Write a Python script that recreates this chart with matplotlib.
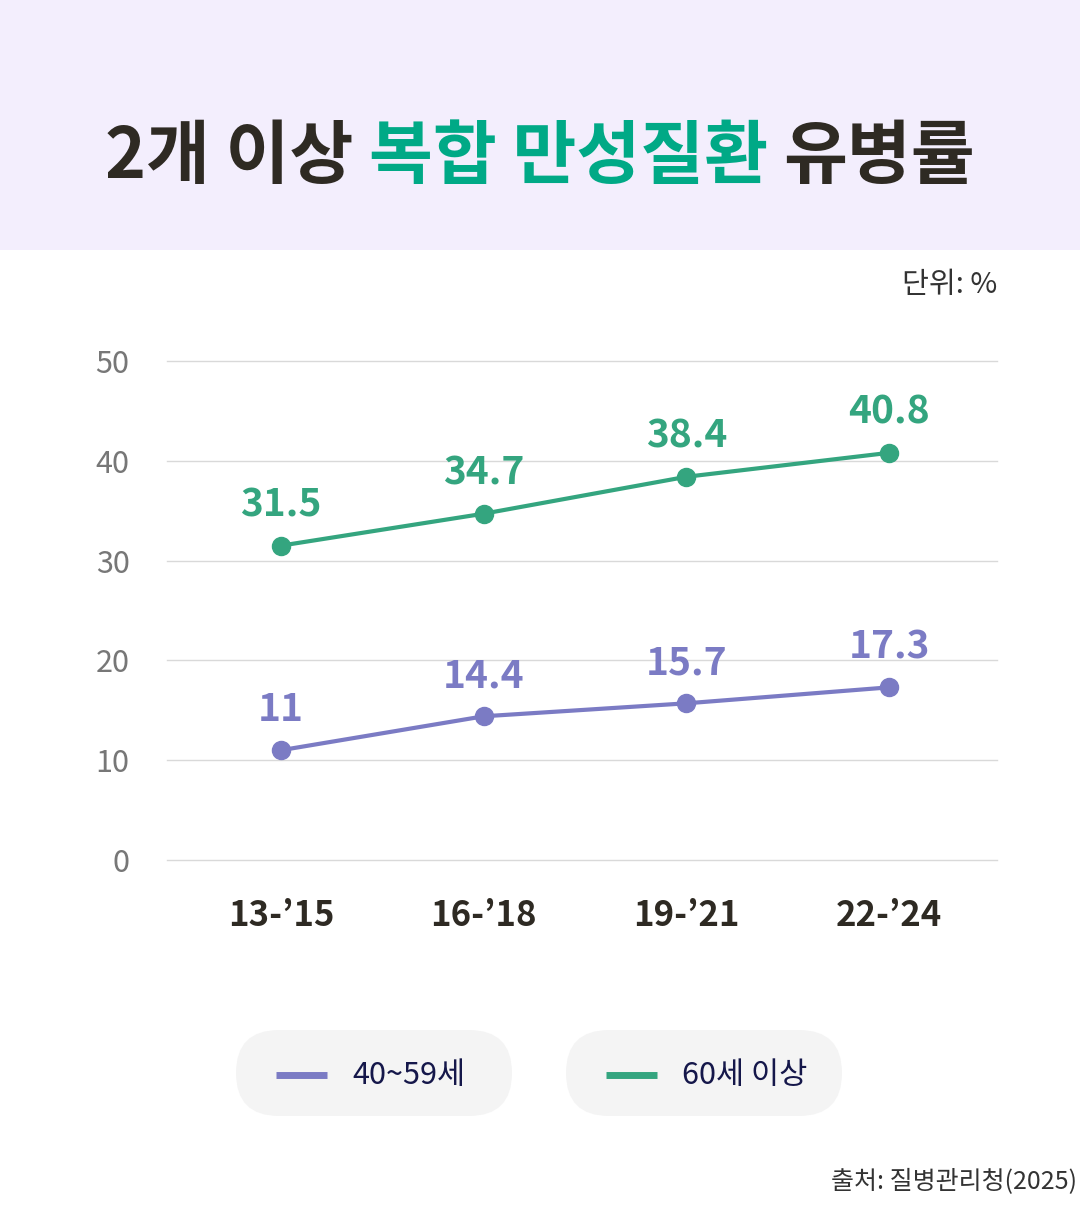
import matplotlib.pyplot as plt
from matplotlib.patches import FancyBboxPatch, Rectangle

plt.rcParams['font.family'] = ['Noto Sans CJK KR', 'DejaVu Sans']

# 데이터
periods = ["13-’15", "16-’18", "19-’21", "22-’24"]
age_40_59 = [11, 14.4, 15.7, 17.3]
age_60_up = [31.5, 34.7, 38.4, 40.8]
series_names = ["40~59세", "60세 이상"]
y_ticks = [0, 10, 20, 30, 40, 50]

purple = '#7B7BC4'
green = '#34A57F'
title_dark = '#2E2A23'
title_green = '#00A986'

W, H = 1080, 1216
fig = plt.figure(figsize=(W / 100, H / 100), dpi=100)
fig.patch.set_facecolor('white')

# 전체 배경용 좌표계 (픽셀 단위)
bg = fig.add_axes([0, 0, 1, 1])
bg.set_xlim(0, W)
bg.set_ylim(H, 0)
bg.axis('off')
bg.add_patch(Rectangle((0, 0), W, 250, color='#F3EEFD', lw=0))

# 제목 (세 조각, 색이 다름)
title_parts = [("2개 이상 ", title_dark), ("복합 만성질환 ", title_green), ("유병률", title_dark)]
texts = []
for s, c in title_parts:
    texts.append(bg.text(0, 158, s, color=c, fontsize=50, fontweight='heavy',
                         ha='left', va='center'))
fig.canvas.draw()
r = fig.canvas.get_renderer()
widths = [t.get_window_extent(r).width for t in texts]
x = (W - sum(widths)) / 2
for t, w in zip(texts, widths):
    t.set_x(x)
    x += w

bg.text(997, 285, "단위: %", fontsize=21, color='#333333', ha='right', va='center')
bg.text(1077, 1182, "출처: 질병관리청(2025)", fontsize=18, color='#333333', ha='right', va='center')

# 범례 (알약 모양)
for i, (name, c) in enumerate(zip(series_names, [purple, green])):
    x0 = 236 + i * 330
    bg.add_patch(FancyBboxPatch((x0, 1030), 276, 86,
                                boxstyle="round,pad=0,rounding_size=43",
                                fc='#F4F4F4', ec='none'))
    bg.plot([x0 + 40, x0 + 91], [1075, 1075], color=c, lw=5, solid_capstyle='butt')
    bg.text(x0 + 116, 1075, name, fontsize=22, color='#15174A', ha='left', va='center')

# 본 차트
ax = fig.add_axes([167 / W, 1 - 860 / H, (997 - 167) / W, (860 - 361) / H])
ax.set_zorder(2)
ax.patch.set_alpha(0)
xs = list(range(len(periods)))
for vals, c in [(age_40_59, purple), (age_60_up, green)]:
    ax.plot(xs, vals, color=c, lw=3, marker='o', markersize=13, clip_on=False)
    for xi, v in zip(xs, vals):
        ax.annotate(f"{v:g}", (xi, v), xytext=(0, 15), textcoords='offset points',
                    ha='center', va='bottom', fontsize=28, fontweight='heavy', color=c)

ax.set_ylim(0, 50)
ax.set_xlim(-0.5625, 3.532)
ax.set_yticks(y_ticks)
ax.set_xticks(xs)
ax.set_xticklabels(periods, fontsize=25, fontweight='bold', color=title_dark)
ax.tick_params(axis='y', labelsize=22, labelcolor='#777777', length=0, pad=27)
ax.tick_params(axis='x', length=0, pad=27)
ax.grid(axis='y', color='#D9D9D9', lw=1)
for gl in ax.yaxis.get_gridlines():
    gl.set_clip_on(False)
ax.set_axisbelow(True)
for sp in ax.spines.values():
    sp.set_visible(False)

fig.savefig('out.png', dpi=100)
